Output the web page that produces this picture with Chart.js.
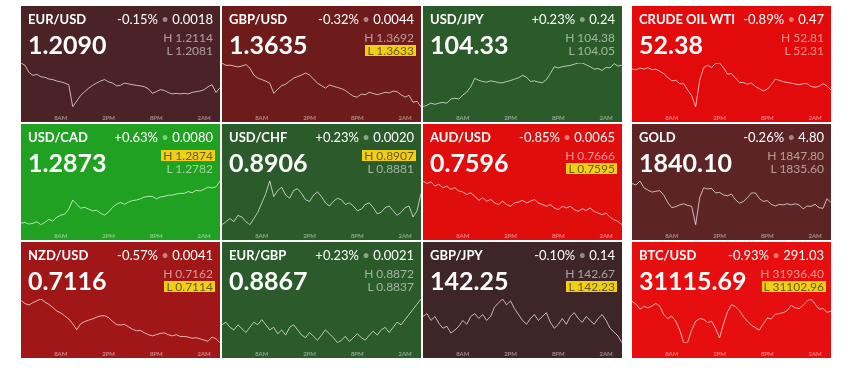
<!DOCTYPE html>
<html>
<head>
<meta charset="utf-8">
<script src="https://cdn.jsdelivr.net/npm/chart.js@4.4.1/dist/chart.umd.min.js"></script>
<style>
  body { margin: 0; background: #fff; font-family: Lato, sans-serif; }
  .tile { position: absolute; width: 199px; height: 116px; overflow: hidden; color: #fff; }
  .tile canvas { position: absolute; left: 0; top: 0; }
  .name { position: absolute; left: 7px; top: 7px; font: bold 13px/13px Lato; white-space: nowrap; }
  .chg { position: absolute; right: 7px; top: 7px; font: 13px/13px Lato; white-space: nowrap; }
  .chg i { font-style: normal; color: rgba(255,255,255,.45); }
  .price { position: absolute; left: 7px; top: 26px; font: bold 25px/25px Lato; white-space: nowrap; }
  .hl { position: absolute; right: 5px; height: 11px; font: 12px/11px Lato; padding: 0 2px;
        color: rgba(255,255,255,.55); white-space: nowrap; }
  .hl.on { background: #f1cf14; color: #6a5a22; }
</style>
</head>
<body>
<div id="board"></div>
<script>
// 24h of half-hour points, 3AM -> 4AM next day
const times = [];
for (let i = 0; i < 51; i++) {
  const h = (3 + i / 2) % 24;
  times.push(Math.floor(h) + ':' + (i % 2 ? '30' : '00'));
}
const tickIdx = [10, 22, 34, 46];
const tickLabels = ['8AM', '2PM', '8PM', '2AM'];

const names = ['EUR/USD', 'GBP/USD', 'USD/JPY', 'CRUDE OIL WTI',
               'USD/CAD', 'USD/CHF', 'AUD/USD', 'GOLD',
               'NZD/USD', 'EUR/GBP', 'GBP/JPY', 'BTC/USD'];
const prices = ['1.2090', '1.3635', '104.33', '52.38',
                '1.2873', '0.8906', '0.7596', '1840.10',
                '0.7116', '0.8867', '142.25', '31115.69'];
const pct = ['-0.15%', '-0.32%', '+0.23%', '-0.89%',
             '+0.63%', '+0.23%', '-0.85%', '-0.26%',
             '-0.57%', '+0.23%', '-0.10%', '-0.93%'];
const chg = ['0.0018', '0.0044', '0.24', '0.47',
             '0.0080', '0.0020', '0.0065', '4.80',
             '0.0041', '0.0021', '0.14', '291.03'];
const highs = ['1.2114', '1.3692', '104.38', '52.81',
               '1.2874', '0.8907', '0.7666', '1847.80',
               '0.7162', '0.8872', '142.67', '31936.40'];
const lows = ['1.2081', '1.3633', '104.05', '52.31',
              '1.2782', '0.8881', '0.7595', '1835.60',
              '0.7114', '0.8837', '142.23', '31102.96'];
// which of high/low is marked (new extreme)
const marked = ['', 'L', '', '', 'H', 'H', 'L', '', 'L', '', 'L', 'L'];
const colors = ['#4b2326', '#6e1b1b', '#2b5a2b', '#e20a0a',
                '#21a121', '#2b5a2b', '#e00d0d', '#5c2424',
                '#a11717', '#2b5a2b', '#3e2628', '#e60e0e'];

const eurusd = [1.21076,1.21060,1.21010,1.20990,1.20996,1.20980,1.20976,1.20964,1.20960,1.20950,
  1.20944,1.20936,1.20924,1.20770,1.20810,1.20850,1.20876,1.20900,1.20920,1.20936,
  1.20950,1.20960,1.20944,1.20936,1.20916,1.20920,1.20936,1.20930,1.20924,1.20920,
  1.20916,1.20910,1.20896,1.20864,1.20876,1.20890,1.20884,1.20870,1.20860,1.20864,
  1.20860,1.20864,1.20860,1.20870,1.20876,1.20880,1.20890,1.20910,1.20924,1.20870,1.20904];
const gbpusd = [1.36785,1.36761,1.36764,1.36755,1.36746,1.36755,1.36770,1.36734,1.36665,1.36635,
  1.36620,1.36605,1.36584,1.36485,1.36524,1.36560,1.36575,1.36605,1.36635,1.36650,
  1.36665,1.36686,1.36665,1.36626,1.36584,1.36560,1.36536,1.36566,1.36554,1.36542,
  1.36530,1.36512,1.36482,1.36455,1.36446,1.36476,1.36470,1.36494,1.36482,1.36470,
  1.36482,1.36494,1.36488,1.36506,1.36500,1.36470,1.36446,1.36464,1.36395,1.36404,1.36350];
const usdjpy = [104.060,104.070,104.084,104.076,104.084,104.088,104.084,104.110,104.116,104.110,
  104.136,104.156,104.190,104.244,104.232,104.224,104.220,104.228,104.224,104.216,
  104.216,104.224,104.230,104.240,104.248,104.264,104.252,104.224,104.228,104.220,
  104.216,104.236,104.276,104.320,104.312,104.320,104.324,104.328,104.336,104.344,
  104.344,104.332,104.320,104.304,104.308,104.296,104.316,104.312,104.340,104.324,104.330];
const oilwti = [52.680,52.672,52.696,52.680,52.700,52.672,52.680,52.648,52.616,52.560,
  52.512,52.520,52.472,52.472,52.380,52.300,52.140,52.520,52.700,52.736,
  52.704,52.760,52.768,52.700,52.608,52.616,52.552,52.488,52.488,52.464,
  52.480,52.432,52.400,52.368,52.392,52.460,52.536,52.520,52.500,52.488,
  52.480,52.468,52.456,52.472,52.472,52.432,52.420,52.432,52.472,52.440,52.380];
const usdcad = [1.27890,1.27908,1.27872,1.27890,1.27920,1.27860,1.27908,1.27968,1.27932,1.28010,
  1.28052,1.28070,1.28172,1.28352,1.28268,1.28190,1.28208,1.28172,1.28136,1.28148,
  1.28088,1.28052,1.28112,1.28208,1.28268,1.28304,1.28268,1.28310,1.28340,1.28352,
  1.28376,1.28412,1.28424,1.28424,1.28376,1.28412,1.28424,1.28448,1.28448,1.28472,
  1.28484,1.28484,1.28520,1.28496,1.28544,1.28532,1.28568,1.28610,1.28592,1.28616,1.28730];
const usdchf = [0.8886,0.8888,0.8890,0.8888,0.8892,0.8891,0.8888,0.8886,0.8890,0.8894,
  0.8900,0.8906,0.8914,0.8904,0.8908,0.8910,0.8905,0.8903,0.8908,0.8909,
  0.8906,0.8902,0.8901,0.8905,0.8907,0.8904,0.8900,0.8898,0.8901,0.8903,
  0.8902,0.8899,0.8900,0.8898,0.8895,0.8896,0.8899,0.8900,0.8897,0.8893,
  0.8894,0.8897,0.8898,0.8895,0.8892,0.8894,0.8897,0.8898,0.8891,0.8895,0.8906];
const audusd = [0.7648,0.7645,0.7647,0.7642,0.7644,0.7640,0.7642,0.7638,0.7640,0.7636,
  0.7635,0.7632,0.7634,0.7630,0.7625,0.7628,0.7624,0.7626,0.7622,0.7620,
  0.7624,0.7620,0.7618,0.7622,0.7623,0.7625,0.7622,0.7624,0.7626,0.7622,
  0.7620,0.7618,0.7620,0.7616,0.7614,0.7618,0.7616,0.7618,0.7614,0.7612,
  0.7615,0.7613,0.7616,0.7612,0.7610,0.7608,0.7610,0.7605,0.7602,0.7600,0.7596];
const gold = [1846.8,1846.3,1847.7,1845.3,1844.5,1843.8,1844.1,1844.3,1842.7,1840.1,
  1838.3,1838.7,1839.3,1839.7,1839.1,1838.8,1832.3,1841.8,1845.3,1844.9,
  1845.1,1843.5,1843.7,1842.8,1842.5,1843.1,1841.1,1839.9,1840.5,1841.8,
  1843.5,1843.5,1841.5,1840.5,1840.8,1839.5,1838.9,1839.5,1839.3,1839.7,
  1839.3,1839.7,1839.3,1837.9,1838.9,1838.8,1839.5,1838.3,1838.1,1841.5,1840.1];
const nzdusd = [0.71720,0.71680,0.71660,0.71692,0.71716,0.71740,0.71700,0.71668,0.71628,0.71580,
  0.71556,0.71516,0.71476,0.71412,0.71332,0.71412,0.71440,0.71460,0.71476,0.71500,
  0.71516,0.71520,0.71492,0.71444,0.71400,0.71396,0.71404,0.71372,0.71340,0.71320,
  0.71324,0.71292,0.71268,0.71252,0.71268,0.71284,0.71292,0.71268,0.71252,0.71268,
  0.71244,0.71244,0.71236,0.71220,0.71228,0.71212,0.71196,0.71180,0.71236,0.71212,0.71160];
const eurgbp = [0.8847,0.8849,0.8845,0.8843,0.8847,0.8844,0.8841,0.8845,0.8849,0.8847,
  0.8851,0.8847,0.8843,0.8845,0.8840,0.8843,0.8839,0.8845,0.8847,0.8843,
  0.8839,0.8837,0.8841,0.8838,0.8835,0.8839,0.8843,0.8840,0.8837,0.8833,
  0.8835,0.8838,0.8834,0.8837,0.8840,0.8837,0.8835,0.8839,0.8842,0.8839,
  0.8843,0.8845,0.8841,0.8845,0.8849,0.8847,0.8851,0.8855,0.8859,0.8863,0.8867];
const gbpjpy = [142.52,142.55,142.48,142.52,142.45,142.40,142.42,142.35,142.38,142.42,
  142.48,142.44,142.52,142.55,142.50,142.54,142.48,142.52,142.62,142.66,
  142.70,142.64,142.68,142.60,142.54,142.48,142.44,142.50,142.54,142.48,
  142.52,142.56,142.46,142.40,142.44,142.50,142.44,142.52,142.56,142.50,
  142.46,142.52,142.48,142.44,142.50,142.54,142.48,142.40,142.36,142.32,142.25];
const btcusd = [31296,31248,31152,31206,31176,31212,31260,31206,31044,30972,
  31020,30924,30756,30516,30528,30756,30924,30972,30960,30900,
  30924,30786,30606,30876,31104,31236,31200,31128,31008,30924,
  30846,30804,30756,30876,30984,30966,31056,31068,31086,31128,
  31224,31176,31164,31224,31308,31344,31248,31152,31164,31092,31115.69];

const series = [eurusd, gbpusd, usdjpy, oilwti, usdcad, usdchf, audusd, gold, nzdusd, eurgbp, gbpjpy, btcusd];

// grid placement
const colX = [21, 222, 423, 632];
const rowY = [6, 124, 242];
const W = 199, H = 116;

const board = document.getElementById('board');

names.forEach((nm, i) => {
  const tile = document.createElement('div');
  tile.className = 'tile';
  tile.style.left = colX[i % 4] + 'px';
  tile.style.top = rowY[Math.floor(i / 4)] + 'px';
  tile.style.background = colors[i];

  const cv = document.createElement('canvas');
  cv.width = W; cv.height = H;
  tile.appendChild(cv);

  tile.insertAdjacentHTML('beforeend',
    `<div class="name">${nm}</div>` +
    `<div class="chg">${pct[i]} <i>&#8226;</i> ${chg[i]}</div>` +
    `<div class="price">${prices[i]}</div>` +
    `<div class="hl${marked[i] === 'H' ? ' on' : ''}" style="top:26px">H ${highs[i]}</div>` +
    `<div class="hl${marked[i] === 'L' ? ' on' : ''}" style="top:39px">L ${lows[i]}</div>`);
  board.appendChild(tile);

  const vals = series[i];
  new Chart(cv, {
    type: 'line',
    data: {
      labels: times,
      datasets: [{ data: vals, borderColor: 'rgba(255,255,255,0.68)', borderWidth: 1, pointRadius: 0, tension: 0 }]
    },
    options: {
      responsive: false, animation: false, events: [],
      layout: { padding: { top: 57, left: 0, right: 0, bottom: 0 } },
      plugins: { legend: { display: false }, tooltip: { enabled: false } },
      scales: {
        x: {
          offset: false,
          grid: { display: false }, border: { display: false },
          ticks: {
            autoSkip: false, maxRotation: 0, padding: 0,
            font: { family: 'Lato', size: 6, weight: 'bold' },
            color: 'rgba(255,255,255,0.45)',
            callback: (v, idx) => { const k = tickIdx.indexOf(idx); return k < 0 ? '' : tickLabels[k]; }
          }
        },
        y: { display: false, min: Math.min(...vals), max: Math.max(...vals) }
      }
    }
  });
});
</script>
</body>
</html>
